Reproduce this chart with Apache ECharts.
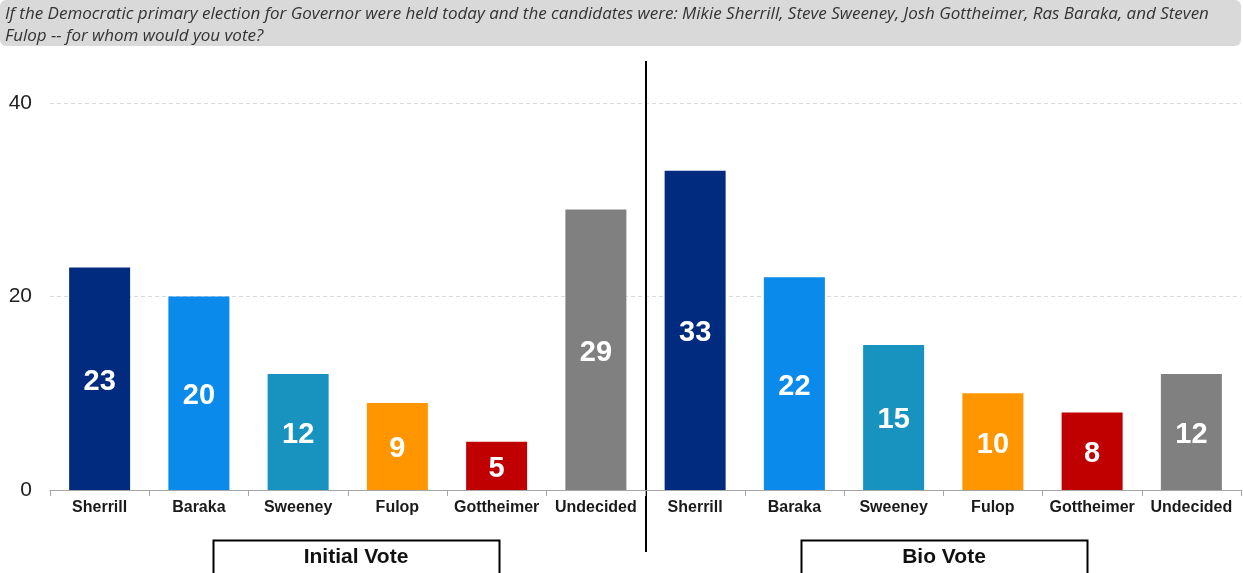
<!DOCTYPE html>
<html>
<head>
<meta charset="utf-8">
<script src="https://cdn.jsdelivr.net/npm/echarts@6/dist/echarts.min.js"></script>
<style>
  html, body { margin: 0; padding: 0; background: #fff; }
  #main { width: 1243px; height: 573px; }
</style>
</head>
<body>
<div id="main"></div>
<script>
// data
var candidates = ["Sherrill", "Baraka", "Sweeney", "Fulop", "Gottheimer", "Undecided"];
var initialVote = [23, 20, 12, 9, 5, 29];
var bioVote = [33, 22, 15, 10, 8, 12];
var candColors = ["#002B7F", "#0A8AEA", "#1893BF", "#FF9600", "#C00000", "#808080"];
var groupNames = ["Initial Vote", "Bio Vote"];
var yTicks = [0, 20, 40];
var questionText = "If the Democratic primary election for Governor were held today and the candidates were: Mikie Sherrill, Steve Sweeney, Josh Gottheimer, Ras Baraka, and Steven\nFulop -- for whom would you vote?";

var categories = candidates.concat(candidates);
var values = initialVote.concat(bioVote);
var barData = values.map(function (v, i) {
  return { value: v, itemStyle: { color: candColors[i % candColors.length] } };
});

var myChart = echarts.init(document.getElementById("main"));

var option = {
  animation: false,
  grid: { left: 50, right: 2, top: 103, bottom: 83 },
  xAxis: {
    type: "category",
    data: categories,
    axisLine: { lineStyle: { color: "#A6A6A6", width: 1 } },
    axisTick: { show: true, length: 6, lineStyle: { color: "#A6A6A6" } },
    axisLabel: {
      interval: 0,
      margin: 10,
      color: "#1a1a1a",
      fontSize: 16,
      fontWeight: "bold",
      fontFamily: "Liberation Sans, Arial, sans-serif"
    }
  },
  yAxis: {
    type: "value",
    min: yTicks[0],
    max: yTicks[yTicks.length - 1],
    interval: 20,
    axisLine: { show: false },
    axisTick: { show: false },
    axisLabel: {
      margin: 18,
      color: "#222",
      fontSize: 21,
      fontFamily: "Liberation Sans, Arial, sans-serif"
    },
    splitLine: { lineStyle: { color: "#D9D9D9", type: [4, 3] } }
  },
  series: [{
    type: "bar",
    data: barData,
    barWidth: 61,
    label: {
      show: true,
      position: "inside",
      offset: [0, 3],
      color: "#fff",
      fontSize: 29,
      fontWeight: "bold",
      fontFamily: "Liberation Sans, Arial, sans-serif"
    }
  }]
};
myChart.setOption(option);

// separator line between groups, placed from the axis scale
var xLeft = myChart.convertToPixel({ xAxisIndex: 0 }, 0);
var xStep = myChart.convertToPixel({ xAxisIndex: 0 }, 1) - xLeft;
var sepX = Math.round(xLeft + xStep * 5.5);

var graphics = [
  {
    type: "rect",
    shape: { x: 0, y: 0, width: 1241, height: 46, r: 6 },
    style: { fill: "#D9D9D9" }
  },
  {
    type: "text",
    x: 5,
    y: 3,
    style: {
      text: questionText,
      fill: "#333",
      font: "italic 17px 'Open Sans', sans-serif",
      lineHeight: 22
    }
  },
  {
    type: "line",
    shape: { x1: sepX, y1: 61, x2: sepX, y2: 552 },
    style: { stroke: "#000", lineWidth: 2 }
  }
];

// group label boxes under each half
var boxLeft = [213, 801];
groupNames.forEach(function (name, g) {
  var bx = boxLeft[g];
  graphics.push({
    type: "rect",
    shape: { x: bx + 0.5, y: 540.5, width: 286, height: 40 },
    style: { fill: "#fff", stroke: "#000", lineWidth: 2 }
  });
  graphics.push({
    type: "text",
    x: bx + 143,
    y: 557,
    style: {
      text: name,
      fill: "#111",
      font: "bold 21px 'Liberation Sans', Arial, sans-serif",
      align: "center",
      verticalAlign: "middle"
    }
  });
});

myChart.setOption({ graphic: graphics });
</script>
</body>
</html>
